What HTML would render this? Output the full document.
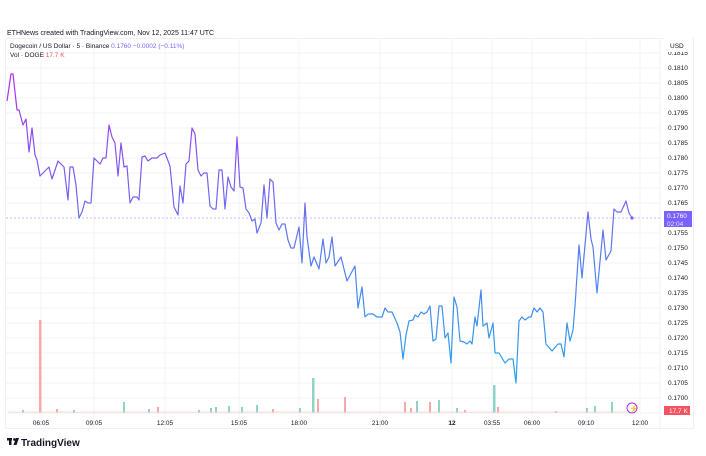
<!DOCTYPE html><html><head><style>
body{margin:0;background:#fff;width:706px;height:451px;overflow:hidden;font-family:"Liberation Sans",sans-serif}
svg text{font-family:"Liberation Sans",sans-serif}
</style></head><body>
<svg width="706" height="451" viewBox="0 0 706 451" xmlns="http://www.w3.org/2000/svg">
<defs><linearGradient id="g" gradientUnits="userSpaceOnUse" x1="0" y1="70" x2="0" y2="385">
<stop offset="0" stop-color="#b02cf5"/><stop offset="0.45" stop-color="#6a6cf0"/><stop offset="1" stop-color="#22a6ee"/></linearGradient></defs>
<text x="7" y="35" font-size="7" fill="#131722">ETHNews created with TradingView.com, Nov 12, 2025 11:47 UTC</text>
<rect x="5.5" y="38.5" width="688" height="390" fill="none" stroke="#eef0f3"/>
<line x1="660" y1="38" x2="660" y2="428" stroke="#eef0f3"/>
<g stroke="#f2f3f5" stroke-width="1">
<line x1="6" x2="660" y1="53" y2="53"/><line x1="6" x2="660" y1="68" y2="68"/><line x1="6" x2="660" y1="83" y2="83"/><line x1="6" x2="660" y1="98" y2="98"/><line x1="6" x2="660" y1="113" y2="113"/><line x1="6" x2="660" y1="128" y2="128"/><line x1="6" x2="660" y1="143" y2="143"/><line x1="6" x2="660" y1="158" y2="158"/><line x1="6" x2="660" y1="173" y2="173"/><line x1="6" x2="660" y1="188" y2="188"/><line x1="6" x2="660" y1="203" y2="203"/><line x1="6" x2="660" y1="233" y2="233"/><line x1="6" x2="660" y1="248" y2="248"/><line x1="6" x2="660" y1="263" y2="263"/><line x1="6" x2="660" y1="278" y2="278"/><line x1="6" x2="660" y1="293" y2="293"/><line x1="6" x2="660" y1="308" y2="308"/><line x1="6" x2="660" y1="323" y2="323"/><line x1="6" x2="660" y1="338" y2="338"/><line x1="6" x2="660" y1="353" y2="353"/><line x1="6" x2="660" y1="368" y2="368"/><line x1="6" x2="660" y1="383" y2="383"/><line x1="6" x2="660" y1="398" y2="398"/><line x1="6" x2="660" y1="413" y2="413"/>
<line y1="38" y2="428" x1="41" x2="41"/><line y1="38" y2="428" x1="94" x2="94"/><line y1="38" y2="428" x1="165" x2="165"/><line y1="38" y2="428" x1="239" x2="239"/><line y1="38" y2="428" x1="299" x2="299"/><line y1="38" y2="428" x1="380" x2="380"/><line y1="38" y2="428" x1="452" x2="452"/><line y1="38" y2="428" x1="492" x2="492"/><line y1="38" y2="428" x1="532" x2="532"/><line y1="38" y2="428" x1="586" x2="586"/><line y1="38" y2="428" x1="640" x2="640"/>
</g>
<text x="10" y="48" font-size="6.5" fill="#131722">Dogecoin / US Dollar · 5 · Binance <tspan fill="#7b61ff">0.1760  −0.0002 (−0.11%)</tspan></text>
<text x="10" y="57" font-size="6.5" fill="#131722">Vol · DOGE <tspan fill="#f7525f">17.7 K</tspan></text>
<line x1="6" x2="660" y1="218" y2="218" stroke="#b9a6ff" stroke-dasharray="2,2" stroke-width="0.8"/>
<g>
<rect x="39" y="320" width="2.5" height="93" fill="#f7a9a7"/>
<rect x="312" y="378" width="2.5" height="35" fill="#8fd3c8"/>
<rect x="493" y="385" width="2.5" height="28" fill="#8fd3c8"/>
<rect x="22" y="410" width="2" height="3" fill="#8fd3c8"/><rect x="123" y="402" width="2" height="11" fill="#8fd3c8"/>
<rect x="317" y="399" width="2" height="14" fill="#f7a9a7"/><rect x="344" y="397" width="2" height="16" fill="#f7a9a7"/>
<rect x="404" y="402" width="2" height="11" fill="#f7a9a7"/><rect x="416" y="401" width="2" height="12" fill="#8fd3c8"/>
<rect x="429" y="402" width="2" height="11" fill="#f7a9a7"/><rect x="438" y="400" width="2" height="13" fill="#8fd3c8"/>
<rect x="497" y="407" width="2" height="6" fill="#f7a9a7"/><rect x="611" y="402" width="2" height="11" fill="#8fd3c8"/>
<rect x="586" y="408" width="2" height="5" fill="#8fd3c8"/><rect x="594" y="406" width="2" height="7" fill="#8fd3c8"/>
<rect x="215" y="407" width="2" height="6" fill="#8fd3c8"/><rect x="228" y="406" width="2" height="7" fill="#8fd3c8"/>
<rect x="241" y="407" width="2" height="6" fill="#8fd3c8"/><rect x="256" y="405" width="2" height="8" fill="#8fd3c8"/>
<rect x="299" y="408" width="2" height="5" fill="#8fd3c8"/><rect x="157" y="407" width="2" height="6" fill="#f7a9a7"/>
<rect x="148" y="409" width="2" height="4" fill="#8fd3c8"/><rect x="198" y="410" width="2" height="3" fill="#8fd3c8"/>
<rect x="210" y="408" width="2" height="5" fill="#8fd3c8"/><rect x="272" y="409" width="2" height="4" fill="#f7a9a7"/>
<rect x="56" y="409" width="2" height="4" fill="#f7a9a7"/><rect x="73" y="410" width="2" height="3" fill="#8fd3c8"/>
<rect x="456" y="408" width="2" height="5" fill="#8fd3c8"/><rect x="464" y="410" width="2" height="3" fill="#f7a9a7"/>
<rect x="410" y="408" width="2" height="5" fill="#f7a9a7"/><rect x="555" y="411" width="2" height="2" fill="#f7a9a7"/>
<rect x="8" y="411.5" width="620" height="1.5" fill="#f7d2d2" opacity="0.6"/>
</g>
<polyline fill="none" stroke="url(#g)" stroke-width="1.2" stroke-linejoin="round" points="7,101 11,74 13,74 17,110 19,110 23,125 26,119 29,152 32,128 35,155 37,160 40,176 49,167 52,179 58,161 64,167 68,200 70,167 73,167 76,185 79,218 82,212 85,201 88,203 91,203 94,158 100,164 103,158 106,158 109,125 112,137 115,143 118,176 121,143 124,167 127,166 130,203 133,197 137,197 139,200 142,157 145,156 148,161 152,158 157,158 160,155 165,153 170,166 174,207 178,215 180,186 183,203 186,164 189,161 192,128 195,134 198,170 201,176 204,173 207,173 210,206 213,209 216,209 219,170 222,170 225,209 228,177 231,187 234,191 237,137 240,187 243,188 246,209 249,213 252,221 255,219 257,233 261,223 264,185 267,218 270,179 273,182 276,223 279,230 282,224 285,224 288,240 291,248 294,248 299,227 302,263 305,203 307,237 311,266 314,257 319,269 323,239 326,263 329,257 332,237 335,266 341,257 347,281 355,266 358,308 362,287 365,317 368,314 373,314 377,317 382,317 385,308 388,312 392,312 397,323 400,332 403,359 406,335 409,321 413,320 415,315 418,317 421,312 424,314 427,312 430,306 433,341 436,339 439,306 442,306 445,338 448,333 451,363 454,297 457,307 460,341 464,342 467,344 470,341 472,344 475,317 477,326 481,290 483,326 487,323 489,338 493,323 495,353 499,353 505,363 509,359 513,359 516,383 519,321 522,317 525,320 529,317 531,317 534,308 537,312 540,308 543,312 546,344 552,351 558,344 561,344 564,357 567,323 570,341 573,330 575,306 579,245 582,278 588,212 591,239 593,247 597,293 603,230 606,260 611,251 614,209 617,212 621,212 626,201 629,213 632,218"/>
<circle cx="632" cy="218" r="1.6" fill="#7b61ff"/>
<circle cx="632" cy="408" r="5" fill="none" stroke="#b02cf5" stroke-width="1"/><text x="629.5" y="411" font-size="7" fill="#b02cf5">⚡</text>
<g font-size="6.5" fill="#131722">
<text x="668" y="55">0.1815</text><text x="668" y="70">0.1810</text><text x="668" y="85">0.1805</text><text x="668" y="100">0.1800</text><text x="668" y="115">0.1795</text><text x="668" y="130">0.1790</text><text x="668" y="145">0.1785</text><text x="668" y="160">0.1780</text><text x="668" y="175">0.1775</text><text x="668" y="190">0.1770</text><text x="668" y="205">0.1765</text><text x="668" y="235">0.1755</text><text x="668" y="250">0.1750</text><text x="668" y="265">0.1745</text><text x="668" y="280">0.1740</text><text x="668" y="295">0.1735</text><text x="668" y="310">0.1730</text><text x="668" y="325">0.1725</text><text x="668" y="340">0.1720</text><text x="668" y="355">0.1715</text><text x="668" y="370">0.1710</text><text x="668" y="385">0.1705</text><text x="668" y="400">0.1700</text>
</g>
<rect x="665" y="38" width="27" height="14" fill="#fff"/>
<text x="670" y="48" font-size="6.5" fill="#131722">USD</text>
<rect x="664" y="211" width="28" height="16" fill="#7b61ff"/>
<text x="667" y="218" font-size="6.5" fill="#fff">0.1760</text><text x="667" y="226" font-size="6.5" fill="#e6e0ff">02:04</text>
<rect x="664" y="406" width="26" height="9" fill="#f23645" opacity="0.85"/>
<text x="669" y="413" font-size="6.5" fill="#fff">17.7 K</text>
<g font-size="6.5" fill="#131722" text-anchor="middle">
<text x="41" y="425">06:05</text><text x="94" y="425">09:05</text><text x="165" y="425">12:05</text><text x="239" y="425">15:05</text><text x="299" y="425">18:00</text><text x="380" y="425">21:00</text><text x="452" y="425" font-weight="bold">12</text><text x="492" y="425">03:55</text><text x="532" y="425">06:00</text><text x="586" y="425">09:10</text><text x="640" y="425">12:00</text>
</g>
<rect x="7" y="438" width="5" height="2.5" fill="#131722"/><rect x="9" y="438" width="2.5" height="7" fill="#131722"/><circle cx="14.5" cy="439.5" r="1.4" fill="#131722"/><polygon points="16,438 19,438 16.5,445 13.5,445" fill="#131722"/>
<text x="21" y="446" font-size="10" font-weight="bold" fill="#131722">TradingView</text>
</svg>
</body></html>
